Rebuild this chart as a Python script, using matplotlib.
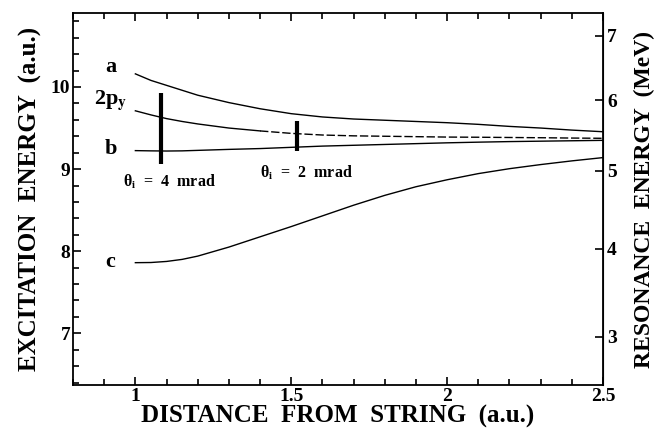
import numpy as np
from matplotlib import pyplot as plt
from matplotlib.ticker import MultipleLocator

plt.rcParams['font.family'] = ['Liberation Serif', 'DejaVu Serif']
plt.rcParams['font.weight'] = 'bold'
plt.rcParams['axes.labelweight'] = 'bold'
plt.rcParams['mathtext.fontset'] = 'stix'

# distance from string (a.u.)
dist = [1.0, 1.05, 1.1, 1.15, 1.2, 1.3, 1.4, 1.5, 1.6, 1.7, 1.8, 1.9, 2.0, 2.1, 2.2, 2.3, 2.4, 2.5]
# excitation energies (a.u.)
level_a = [10.16, 10.08, 10.02, 9.96, 9.90, 9.81, 9.735, 9.675, 9.635, 9.61, 9.595, 9.58, 9.565, 9.545,
           9.52, 9.50, 9.475, 9.455]
level_2py = [9.71, 9.66, 9.615, 9.58, 9.55, 9.50, 9.465, 9.435, 9.415, 9.405, 9.40, 9.395, 9.39, 9.388,
             9.385, 9.382, 9.378, 9.375]
level_b = [9.225, 9.222, 9.22, 9.222, 9.228, 9.24, 9.25, 9.265, 9.28, 9.29, 9.30, 9.31, 9.32, 9.328,
           9.335, 9.34, 9.345, 9.35]
level_c = [7.86, 7.862, 7.875, 7.90, 7.94, 8.05, 8.175, 8.30, 8.43, 8.56, 8.68, 8.785, 8.87, 8.945,
           9.005, 9.055, 9.10, 9.14]

# vertical bars: (x, y_low, y_high)
bar_4mrad = (1.083, 9.06, 9.93)
bar_2mrad = (1.52, 9.22, 9.585)

res_ticks = [3, 4, 5, 6, 7]
k_res = 0.062  # resonance energy (MeV) = k * E^2


def to_res(e):
    return k_res * np.asarray(e, dtype=float) ** 2


def from_res(r):
    return np.sqrt(np.clip(np.asarray(r, dtype=float), 0, None) / k_res)


fig = plt.figure(figsize=(6.65, 4.37), dpi=100)
ax = fig.add_axes([0.1098, 0.119, 0.797, 0.851])

n_solid = 7  # 2p_y drawn solid up to x = 1.4, dashed after
ax.plot(dist, level_a, color='black', lw=1.0)
ax.plot(dist[:n_solid], level_2py[:n_solid], color='black', lw=1.0)
ax.plot(dist[n_solid - 1:], level_2py[n_solid - 1:], color='black', lw=1.0, dashes=(6, 2))
ax.plot(dist, level_b, color='black', lw=1.0)
ax.plot(dist, level_c, color='black', lw=1.0)

for bx, lo, hi in (bar_4mrad, bar_2mrad):
    ax.vlines(bx, lo, hi, color='black', lw=3)

ax.text(0.92, 10.24, 'a', fontsize=16, ha='center', va='center')
ax.text(0.92, 9.84, '2p$_{\\mathbf{y}}$', fontsize=16, ha='center', va='center')
ax.text(0.92, 9.24, 'b', fontsize=16, ha='center', va='center')
ax.text(0.92, 7.87, 'c', fontsize=16, ha='center', va='center')
ax.text(1.11, 8.84, 'θ$_\\mathrm{i}$  =  4  mrad', fontsize=11.5, ha='center', va='center')
ax.text(1.55, 8.96, 'θ$_\\mathrm{i}$  =  2  mrad', fontsize=11.5, ha='center', va='center')

ax.set_xlim(0.8, 2.5)
ax.set_ylim(6.37, 10.9)
ax.set_xticks([1, 1.5, 2, 2.5])
ax.set_xticklabels(['1', '1.5', '2', '2.5'])
ax.xaxis.set_minor_locator(MultipleLocator(0.1))
ax.set_yticks([7, 8, 9, 10])
ax.yaxis.set_minor_locator(MultipleLocator(0.2))
ax.tick_params(which='both', direction='in', top=True, right=False, labelsize=14, pad=2, width=1.2)
ax.tick_params(which='major', length=6)
ax.tick_params(which='minor', length=4)
for s in ax.spines.values():
    s.set_linewidth(1.3)

ax.set_xlabel('DISTANCE  FROM  STRING  (a.u.)', fontsize=18, labelpad=0)
ax.set_ylabel('EXCITATION  ENERGY  (a.u.)', fontsize=18, labelpad=6)

sec = ax.secondary_yaxis('right', functions=(to_res, from_res))
sec.set_yticks(res_ticks)
sec.set_yticklabels([str(t) for t in res_ticks])
sec.minorticks_off()
sec.tick_params(direction='in', length=6, width=1.2, labelsize=14, pad=3)
sec.set_ylabel('RESONANCE  ENERGY  (MeV)', fontsize=17, labelpad=12)

fig.savefig('out.png', dpi=100)
